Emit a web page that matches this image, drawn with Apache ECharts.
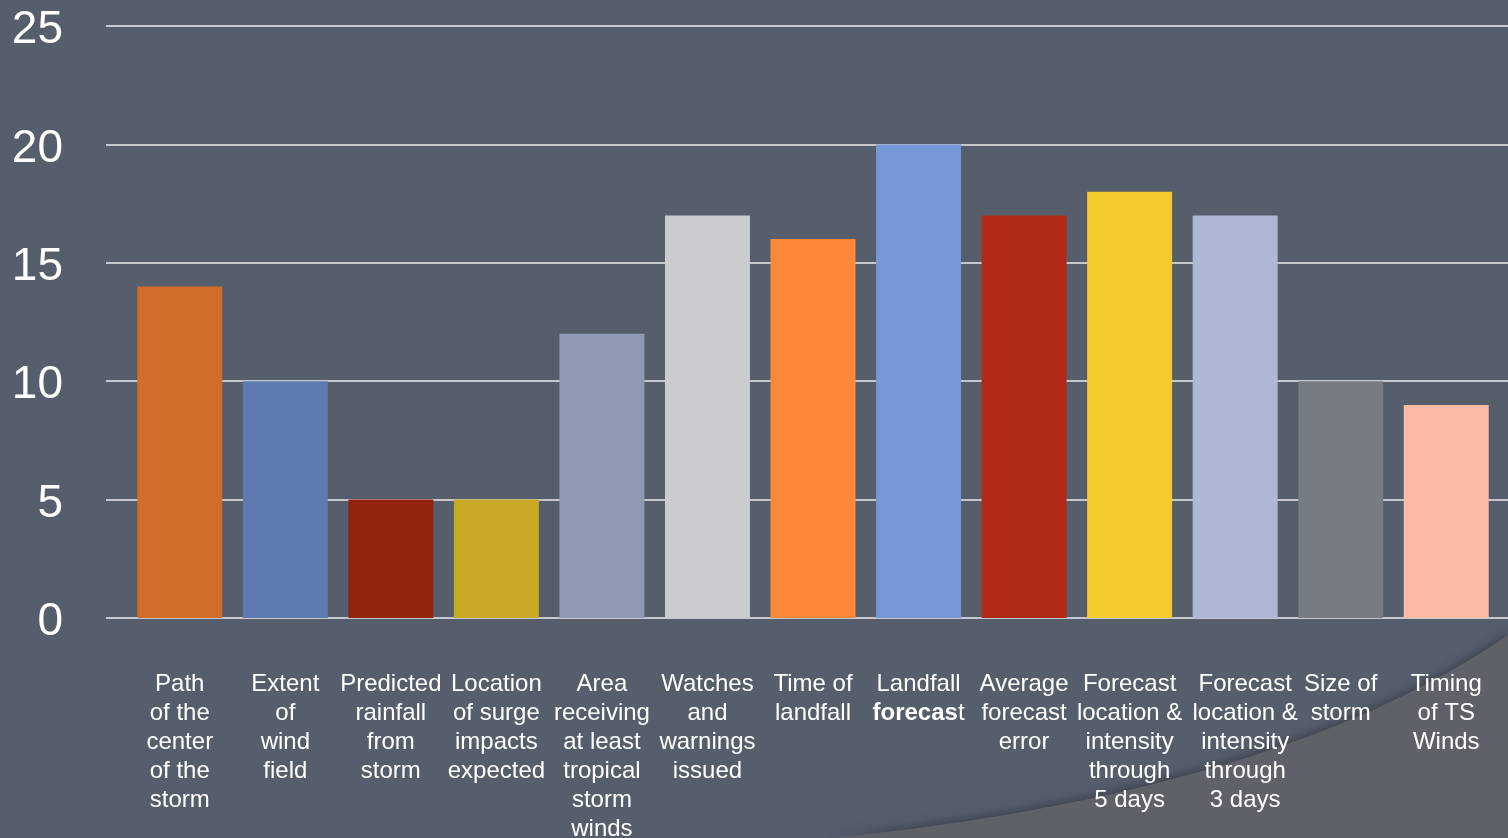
<!DOCTYPE html>
<html>
<head>
<meta charset="utf-8">
<script src="https://cdn.jsdelivr.net/npm/echarts@6/dist/echarts.min.js"></script>
<style>
  html, body { margin: 0; padding: 0; background: #575e6b; }
  #chart { width: 1508px; height: 838px; }
</style>
</head>
<body>
<div id="chart"></div>
<script>
const categories = [
  'Path of the center of the storm',
  'Extent of wind field',
  'Predicted rainfall from storm',
  'Location of surge impacts expected',
  'Area receiving at least tropical storm winds',
  'Watches and warnings issued',
  'Time of landfall',
  'Landfall forecast',
  'Average forecast error',
  'Forecast location & intensity through 5 days',
  'Forecast location & intensity through 3 days',
  'Size of storm',
  'Timing of TS Winds'
];
const tickLabels = [
  'Path\nof the\ncenter\nof the\nstorm',
  'Extent\nof\nwind\nfield',
  'Predicted\nrainfall\nfrom\nstorm',
  'Location\nof surge\nimpacts\nexpected',
  'Area\nreceiving\nat least\ntropical\nstorm\nwinds',
  'Watches\nand\nwarnings\nissued',
  'Time of\nlandfall',
  'Landfall\n{b|forecas}t',
  'Average\nforecast\nerror',
  'Forecast\nlocation &\nintensity\nthrough\n5 days',
  'Forecast\nlocation &\nintensity\nthrough\n3 days',
  'Size of\nstorm',
  'Timing\nof TS\nWinds'
];
const values = [14, 10, 5, 5, 12, 17, 16, 20, 17, 18, 17, 10, 9];
const yTicks = [0, 5, 10, 15, 20, 25];
const barColors = ['#d06d2b', '#5e7bb0', '#93220f', '#c9a826', '#8e99b2', '#cbccd0',
  '#fd8839', '#7798d6', '#b02a16', '#f4cc2e', '#adb8d4', '#777b84', '#fdbba4'];

// decorative background swoosh (quadratic curve sampled)
function swooshPoints() {
  const p0 = [833, 838], c = [1280, 792], p1 = [1508, 635];
  const pts = [];
  for (let k = 0; k <= 40; k++) {
    const t = k / 40, a = (1 - t) * (1 - t), b = 2 * (1 - t) * t, d = t * t;
    pts.push([a * p0[0] + b * c[0] + d * p1[0], a * p0[1] + b * c[1] + d * p1[1]]);
  }
  pts.push([1508, 838]);
  return pts;
}

const chart = echarts.init(document.getElementById('chart'), null, { renderer: 'canvas' });
const labelFont = "'Liberation Sans', Arial, sans-serif";
const txt = { color: '#ffffff', fontFamily: labelFont, fontSize: 24, lineHeight: 29 };

chart.setOption({
  backgroundColor: '#575e6b',
  animation: false,
  graphic: [{
    type: 'polygon',
    z: -10,
    silent: true,
    shape: { points: swooshPoints() },
    style: { fill: '#5f6168', shadowColor: 'rgba(40,44,54,0.55)', shadowBlur: 10, shadowOffsetY: -3 }
  }],
  grid: [
    { left: 106, right: 0, top: 26, bottom: 220, containLabel: false, outerBoundsMode: 'none' },
    { left: 127, right: 9, top: 26, bottom: 220, containLabel: false, outerBoundsMode: 'none' }
  ],
  xAxis: [
    { type: 'value', gridIndex: 0, min: 0, max: 1, show: false },
    {
      type: 'category', gridIndex: 1, data: categories,
      axisLine: { show: false }, axisTick: { show: false },
      axisLabel: Object.assign({
        interval: 0, margin: 52, align: 'center',
        formatter: (v, i) => i === 10
          ? tickLabels[i].split('\n').map(l => '{s|' + l + '}').join('\n')
          : tickLabels[i],
        rich: {
          b: Object.assign({ fontWeight: 'bold' }, txt),
          s: Object.assign({ padding: [0, 0, 0, 20] }, txt)
        }
      }, txt)
    }
  ],
  yAxis: [
    {
      type: 'value', gridIndex: 0, min: yTicks[0], max: yTicks[yTicks.length - 1], interval: 5,
      axisLine: { show: false }, axisTick: { show: false },
      axisLabel: {
        color: '#ffffff', fontFamily: labelFont, fontSize: 46, margin: 43,
        formatter: v => '{v|' + v + '}',
        rich: { v: { color: '#ffffff', fontFamily: labelFont, fontSize: 46, padding: [9, 0, 0, 0] } }
      },
      splitLine: { show: true, lineStyle: { color: '#c4c7cd', width: 2 } }
    },
    {
      type: 'value', gridIndex: 1, min: 0, max: 25, interval: 5, show: false,
      splitLine: { show: false }
    }
  ],
  series: [{
    type: 'bar', xAxisIndex: 1, yAxisIndex: 1,
    barCategoryGap: '19.5%',
    data: values.map((v, i) => ({ value: v, itemStyle: { color: barColors[i] } })),
    z: 3
  }]
});
</script>
</body>
</html>
